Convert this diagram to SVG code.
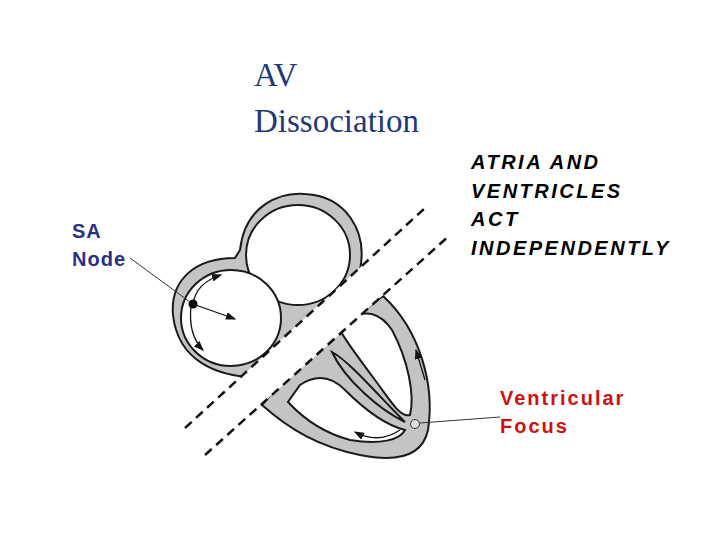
<svg xmlns="http://www.w3.org/2000/svg" width="720" height="540" viewBox="0 0 720 540">
<style>
.wall{fill:#c4c4c4;stroke:#1a1a1a;stroke-width:2}
.cav{fill:#fff;stroke:#1a1a1a;stroke-width:2}
.dash{stroke:#111;stroke-width:2.5;stroke-dasharray:9,6;fill:none}
.t{font-family:"Liberation Sans",Arial,sans-serif;font-size:20px;font-weight:bold;letter-spacing:1px}
.ln{stroke:#333;stroke-width:1;fill:none}
.ar{stroke:#111;stroke-width:1.3;fill:none;marker-end:url(#ah)}
</style>
<defs><marker id="ah" markerWidth="8" markerHeight="6" refX="7" refY="3" orient="auto"><path d="M0,0L8,3L0,6z" fill="#111"/></marker></defs>
<rect width="720" height="540" fill="#fff"/>
<g id="title"><text x="254" y="86" font-family="Liberation Serif,serif" font-size="33" fill="#1f3a78">AV</text><text x="254" y="132" font-family="Liberation Serif,serif" font-size="33" fill="#1f3a78">Dissociation</text></g>
<g id="heart">
<path class="wall" d="M240,250 C245,205 280,192 305,194 C345,196 368,230 360,270 L340,330 C320,360 300,380 265,378 C215,378 178,360 173,315 C170,280 195,258 235,258 Z"/>
<ellipse class="cav" cx="298" cy="255" rx="52" ry="50"/>
<ellipse class="cav" cx="231" cy="318" rx="50" ry="48"/>
<path class="wall" d="M383,296 C420,330 435,385 428,430 C422,458 395,462 360,455 C320,447 290,430 262,405 L300,360 Z"/>
<path class="cav" d="M352,318 C365,310 380,312 392,330 C408,360 415,395 410,415 C400,418 390,400 375,380 C360,360 345,340 340,330 Z"/>
<path class="cav" d="M300,385 C315,375 330,375 345,390 C365,410 385,425 405,430 C400,440 380,445 350,440 C320,432 300,415 288,402 Z"/>
<path class="wall" d="M332,352 C350,362 375,392 405,422 C380,410 345,380 332,352 Z"/>
<polygon points="185,428 425,208 450,235 205,455" fill="#fff"/>
<line class="dash" x1="185" y1="428" x2="425" y2="208"/>
<line class="dash" x1="205" y1="455" x2="450" y2="235"/>
<circle cx="193" cy="304" r="4.5" fill="#000"/>
<line class="ar" x1="193" y1="304" x2="235" y2="319"/>
<path class="ar" d="M193,304 C195,290 205,280 221,275"/>
<path class="ar" d="M191,306 C189,325 193,340 203,350"/>
<circle cx="415" cy="424" r="4.5" fill="#ddd" stroke="#333"/>
<path class="ar" d="M400,430 C385,440 370,440 355,432"/>
<path class="ar" d="M425,380 L416,350"/>
</g>
<g id="connectors">
<line class="ln" x1="130" y1="258" x2="190" y2="302"/>
<line class="ln" x1="420" y1="423" x2="500" y2="417"/>
</g>
<g id="sa"><text class="t" x="72" y="238" fill="#2a2f86" style="font-weight:600">SA</text><text class="t" x="72" y="266" fill="#2a2f86" style="font-weight:600">Node</text></g>
<g id="note" font-style="italic"><text class="t" x="471" y="169" style="letter-spacing:2.5px">ATRIA AND</text><text class="t" x="471" y="198" style="letter-spacing:2.5px">VENTRICLES</text><text class="t" x="471" y="226" style="letter-spacing:2.5px">ACT</text><text class="t" x="471" y="255" style="letter-spacing:2.5px">INDEPENDENTLY</text></g>
<g id="vf"><text class="t" x="500" y="405" fill="#d01010" style="letter-spacing:2px">Ventricular</text><text class="t" x="500" y="433" fill="#d01010" style="letter-spacing:2px">Focus</text></g>
</svg>
